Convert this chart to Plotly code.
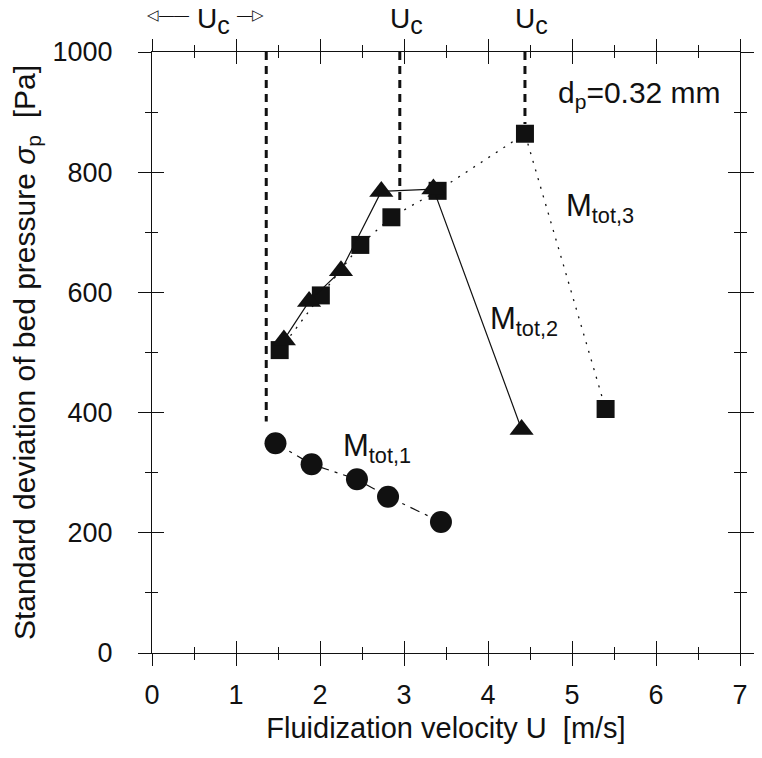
import plotly.graph_objects as go

# Measured data: standard deviation of bed pressure vs fluidization velocity
u_tot1 = [1.47, 1.90, 2.44, 2.81, 3.44]
sp_tot1 = [349, 314, 289, 260, 218]

u_tot2 = [1.57, 1.87, 2.25, 2.73, 3.35, 4.40]
sp_tot2 = [521, 585, 636, 768, 772, 372]

u_tot3 = [1.52, 2.01, 2.48, 2.85, 3.40, 4.44, 5.40]
sp_tot3 = [504, 595, 679, 725, 769, 864, 406]

# Critical velocities U_c and where each marker line stops
u_c = [1.36, 2.95, 4.44]
uc_bottom = [385, 745, 880]
uc_top = 1000

x_ticks = [0, 1, 2, 3, 4, 5, 6, 7]
y_ticks = [0, 200, 400, 600, 800, 1000]

FONT = "Liberation Sans, Arial, Helvetica, sans-serif"
INK = "#111111"

fig = go.Figure()

# dashed vertical lines at U_c
for xc, yb in zip(u_c, uc_bottom):
    fig.add_trace(go.Scatter(
        x=[xc, xc], y=[uc_top, yb], mode="lines",
        line=dict(color=INK, width=3, dash="8px,6px"),
        showlegend=False, hoverinfo="skip"))

fig.add_trace(go.Scatter(
    x=u_tot1, y=sp_tot1, mode="lines+markers",
    line=dict(color=INK, width=1.2, dash="10px,6px,3px,6px"),
    marker=dict(symbol="circle", size=22, color=INK),
    showlegend=False))

fig.add_trace(go.Scatter(
    x=u_tot3, y=sp_tot3, mode="lines+markers",
    line=dict(color=INK, width=1.3, dash="2px,7px"),
    marker=dict(symbol="square", size=18, color=INK),
    showlegend=False))

fig.add_trace(go.Scatter(
    x=u_tot2, y=sp_tot2, mode="lines+markers",
    line=dict(color=INK, width=1.2),
    marker=dict(symbol="triangle-up", size=21, color=INK),
    showlegend=False))

# empty trace on the overlay axes that carry the inward half of the ticks
fig.add_trace(go.Scatter(x=[], y=[], xaxis="x2", yaxis="y2",
                         showlegend=False, hoverinfo="skip"))

tick_common = dict(tickcolor=INK, tickwidth=1, linecolor=INK, linewidth=1,
                   showgrid=False, zeroline=False)

fig.update_layout(
    width=762, height=758,
    margin=dict(l=152, r=8, t=52, b=105),
    paper_bgcolor="white", plot_bgcolor="white",
    font=dict(family=FONT, color=INK, size=27),
    xaxis=dict(
        range=[0, 7], tickvals=x_ticks, ticks="outside", ticklen=12,
        minor=dict(dtick=0.5, ticks="outside", ticklen=6, tickcolor=INK),
        showline=True, mirror="allticks",
        tickfont=dict(size=27), ticklabelstandoff=6,
        title=dict(text="Fluidization velocity U\u00a0\u00a0[m/s]",
                   font=dict(size=29), standoff=8),
        **tick_common),
    yaxis=dict(
        range=[0, 1000], tickvals=y_ticks, ticks="outside", ticklen=13,
        minor=dict(dtick=100, ticks="outside", ticklen=6, tickcolor=INK),
        showline=True, mirror="allticks",
        tickfont=dict(size=27), ticklabelstandoff=20,
        title=dict(text="Standard deviation of bed pressure <i>σ</i><sub>p</sub>\u00a0\u00a0[Pa]",
                   font=dict(size=30), standoff=8),
        **tick_common),
    xaxis2=dict(
        overlaying="x", matches="x", anchor="y2", range=[0, 7],
        tickvals=x_ticks, ticks="inside", ticklen=12,
        minor=dict(dtick=0.5, ticks="inside", ticklen=6, tickcolor=INK),
        showline=False, mirror="allticks", showticklabels=False,
        **tick_common),
    yaxis2=dict(
        overlaying="y", matches="y", anchor="x2", range=[0, 1000],
        tickvals=y_ticks, ticks="inside", ticklen=12,
        minor=dict(dtick=100, ticks="inside", ticklen=6, tickcolor=INK),
        showline=False, mirror="allticks", showticklabels=False,
        **tick_common),
)

UC_TEXT = "U<sub><span style='font-size:25px'>c</span></sub>"

# U_c labels above the frame (paper y so they are not hidden off-range)
top_labels = [
    dict(x=0.73, y=1.052, text=UC_TEXT, font=dict(size=28)),
    dict(x=3.03, y=1.052, text=UC_TEXT, font=dict(size=28)),
    dict(x=4.52, y=1.052, text=UC_TEXT, font=dict(size=28)),
    dict(x=0.19, y=1.062, text="◁——", font=dict(size=15)),
    dict(x=1.17, y=1.062, text="—▷", font=dict(size=15)),
]
for a in top_labels:
    fig.add_annotation(xref="x", yref="paper", showarrow=False,
                       yanchor="middle", **a)

inner_labels = [
    dict(x=5.80, y=930, text="d<sub>p</sub>=0.32 mm", font=dict(size=30)),
    dict(x=2.68, y=341, text="M<sub>tot,1</sub>", font=dict(size=31)),
    dict(x=4.43, y=552, text="M<sub>tot,2</sub>", font=dict(size=31)),
    dict(x=5.33, y=740, text="M<sub>tot,3</sub>", font=dict(size=31)),
]
for a in inner_labels:
    fig.add_annotation(xref="x", yref="y", showarrow=False, **a)

fig.write_html("out.html")
